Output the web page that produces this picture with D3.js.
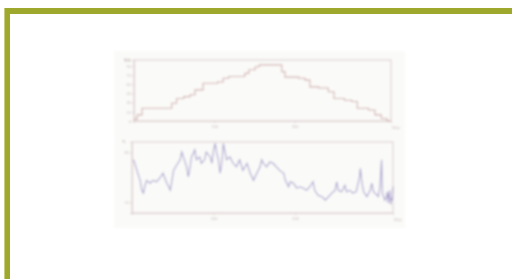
<!DOCTYPE html>
<html>
<head>
<meta charset="utf-8">
<script src="https://cdn.jsdelivr.net/npm/d3@7"></script>
<style>
    html, body { margin:0; padding:0; background:#ffffff; }
    svg { display:block; font-family:"DejaVu Sans", sans-serif; }
</style>
</head>
<body>
<div id="chart"></div>
<script>

//Top panel: step series (x = day, y = level)
var stepDays   = [0, 4, 10, 47, 53, 62, 70, 76, 86, 104, 111, 118, 138, 143, 151, 156, 184, 188, 205, 213, 219, 230, 242, 249, 262, 271, 278, 292, 300, 308, 315, 320];
var stepLevels = [3, 10, 21, 29, 37, 40, 43, 51, 62, 64, 70, 73, 78, 84, 89, 92, 81, 72, 70, 67, 56, 54, 48, 37, 34, 32, 21, 18, 10, 4, 0, 0];

//Bottom panel: noisy series
var noiseDays = [2, 6, 10, 12, 14, 16, 18, 22, 26, 30, 34, 38, 42, 47, 49, 51, 55, 59, 61, 63, 67, 69, 71, 73, 77, 79, 83, 85, 89, 91, 96, 98, 100, 102, 104, 106, 108, 110, 112, 116, 120, 124, 128, 132, 136, 141, 145, 149, 153, 157, 159, 161, 165, 169, 173, 177, 181, 186, 188, 192, 194, 198, 202, 206, 210, 214, 218, 222, 224, 228, 233, 237, 241, 245, 249, 251, 253, 257, 261, 263, 267, 271, 275, 279, 280, 282, 284, 288, 292, 294, 296, 298, 302, 304, 306, 307, 310, 312, 313, 314, 315, 316, 317, 318, 319, 320];
var noiseVals = [75, 60, 46, 32, 28, 39, 46, 42, 46, 44, 49, 56, 44, 32, 46, 60, 68, 75, 86, 79, 65, 51, 63, 79, 89, 75, 79, 70, 75, 86, 79, 70, 89, 98, 84, 75, 56, 70, 98, 75, 79, 70, 65, 75, 60, 70, 56, 46, 56, 65, 75, 70, 65, 72, 70, 65, 60, 56, 46, 37, 44, 42, 35, 37, 35, 32, 37, 44, 32, 25, 23, 18, 23, 28, 32, 44, 32, 30, 39, 30, 32, 28, 30, 51, 63, 42, 30, 23, 32, 42, 30, 28, 23, 37, 75, 28, 18, 23, 30, 14, 25, 32, 12, 21, 18, 37];

//Tick labels
var xTicks      = [100, 200];
var topYTicks   = [0, 15, 30, 45, 60, 75, 90, 100];
var botYTicks   = [15, 85];
var topYLabel   = "km";
var botYLabel   = "%";
var xAxisLabel  = "Day";


  //**************************************************************************
  //** drawPanel
  //**************************************************************************
    var drawPanel = function(g, box, xs, ys, color, yTicks, yLabel, curve){

        var x = d3.scaleLinear().domain([0, 320]).range([box.left, box.right]);
        var y = d3.scaleLinear().domain([0, 100]).range([box.bottom, box.top]);

      //Frame
        g.append("rect")
        .attr("x", box.left).attr("y", box.top)
        .attr("width", box.right-box.left).attr("height", box.bottom-box.top)
        .attr("fill", "none")
        .attr("stroke", "#e2d8d8")
        .attr("stroke-width", 1.3);

      //Axes
        var xAxis = g.append("g")
            .attr("transform", "translate(0," + box.bottom + ")")
            .call(d3.axisBottom(x).tickValues(xTicks).tickSize(2).tickPadding(2));

        var yAxis = g.append("g")
            .attr("transform", "translate(" + box.left + ",0)")
            .call(d3.axisLeft(y).tickValues(yTicks).tickSize(2).tickPadding(1));

        [xAxis, yAxis].forEach(function(a){
            a.select(".domain").attr("stroke", "#ddd0d0");
            a.selectAll(".tick line").attr("stroke", "#ddd0d0");
            a.selectAll("text").attr("fill", "#c8bcbc").style("font-size", "4px");
        });

      //Axis labels
        g.append("text")
        .attr("x", box.left - 10).attr("y", box.top + 1)
        .attr("fill", "#bcaeae")
        .style("font-size", "4px")
        .text(yLabel);

        g.append("text")
        .attr("x", box.right + 1).attr("y", box.bottom + 8)
        .attr("fill", "#c8bcbc")
        .style("font-size", "4px")
        .text(xAxisLabel);

      //Line
        var line = d3.line()
            .x(function(d){ return x(d[0]); })
            .y(function(d){ return y(d[1]); })
            .curve(curve);

        g.append("path")
        .datum(xs.map(function(d, i){ return [d, ys[i]]; }))
        .attr("fill", "none")
        .attr("stroke", color)
        .attr("stroke-width", 1.1)
        .attr("d", line);
    };


  //**************************************************************************
  //** main
  //**************************************************************************
    var svg = d3.select("#chart").append("svg")
        .attr("width", 512)
        .attr("height", 279);

    var defs = svg.append("defs");
    defs.append("filter")
        .attr("id", "soft")
        .attr("x", "-5%").attr("y", "-5%").attr("width", "110%").attr("height", "110%")
        .append("feGaussianBlur")
        .attr("stdDeviation", 0.8);

  //Olive frame
    svg.append("rect").attr("x", 4).attr("y", 8).attr("width", 508).attr("height", 6).attr("fill", "#9ea82c");
    svg.append("rect").attr("x", 4).attr("y", 8).attr("width", 6).attr("height", 271).attr("fill", "#9ea82c");
    svg.append("rect").attr("x", 4).attr("y", 8).attr("width", 1).attr("height", 271).attr("fill", "#c8cd7e");

  //Thumbnail
    var thumb = svg.append("g").attr("filter", "url(#soft)");

    thumb.append("rect")
    .attr("x", 114).attr("y", 51)
    .attr("width", 291).attr("height", 177)
    .attr("fill", "#fafaf8");

    drawPanel(thumb, {left:134, right:391, top:60, bottom:121},
        stepDays, stepLevels, "#d2b2b2", topYTicks, topYLabel, d3.curveStepAfter);

    drawPanel(thumb, {left:132, right:393, top:142, bottom:213},
        noiseDays, noiseVals, "#aba2cf", botYTicks, botYLabel, d3.curveLinear);

</script>
</body>
</html>
